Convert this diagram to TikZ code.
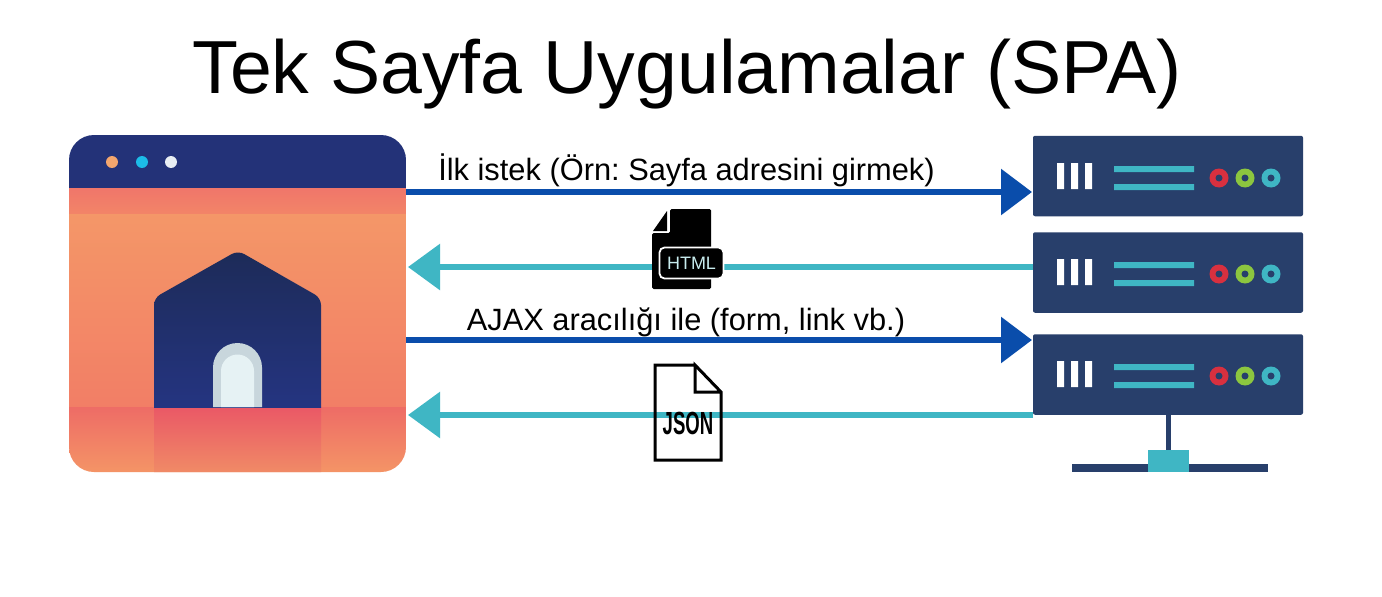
\documentclass[tikz,border=0pt]{standalone}
\usepackage{fontspec}
\setmainfont{Liberation Sans}
\usetikzlibrary{arrows.meta}
\frenchspacing
\definecolor{navy}{HTML}{233278}
\definecolor{srv}{HTML}{283F6B}
\definecolor{teal2}{HTML}{3FB6C4}
\definecolor{blue2}{HTML}{0A4DAB}
\definecolor{red2}{HTML}{D8303F}
\definecolor{green2}{HTML}{8CC63F}
\definecolor{bodytop}{HTML}{F49A68}
\definecolor{bodybot}{HTML}{F27E66}
\definecolor{bandtop}{HTML}{F0766A}
\definecolor{bandbot}{HTML}{F28468}
\definecolor{floortop}{HTML}{EE6C66}
\definecolor{floorbot}{HTML}{F49466}
\definecolor{midtop}{HTML}{EA5866}
\definecolor{midbot}{HTML}{F08A66}
\definecolor{dota}{HTML}{F4A66E}
\definecolor{dotb}{HTML}{1CBCE8}
\definecolor{dotc}{HTML}{E8EEF4}
\definecolor{housetop}{HTML}{1D2B58}
\definecolor{housebot}{HTML}{253584}
\definecolor{doorout}{HTML}{C8D6DC}
\definecolor{doorin}{HTML}{E6F2F4}
\definecolor{htmltxt}{HTML}{C8ECEE}
\tikzset{
  req/.style={draw=blue2,line width=6pt,-{Triangle[length=31pt,width=45pt]}},
  resp/.style={draw=teal2,line width=6pt,-{Triangle[length=32pt,width=45pt]}},
  lbl/.style={anchor=base,inner sep=0pt,font=\fontsize{30.8}{36}\selectfont},
  srvbox/.style={fill=srv,draw=none,rounded corners=2pt,inner sep=0pt,minimum width=270pt,minimum height=80.5pt},
}
\newcommand{\rackface}[1]{%
  \begin{scope}[yshift=-#1pt]
    \fill[white] (1057,163) rectangle (1064,189) (1071,163) rectangle (1078,189) (1085,163) rectangle (1092,189);
    \fill[teal2] (1114,166) rectangle (1194,172) (1114,184) rectangle (1194,190);
    \fill[red2] (1219,178) circle (9.5);
    \fill[green2] (1245,178) circle (9.5);
    \fill[teal2] (1271,178) circle (9.5);
    \fill[srv] (1219,178) circle (3.5) (1245,178) circle (3.5) (1271,178) circle (3.5);
  \end{scope}}
\begin{document}
\begin{tikzpicture}[x=1pt,y=-1pt]
\useasboundingbox (0,0) rectangle (1382,597);
\fill[white] (0,0) rectangle (1382,597);
\node[anchor=base,inner sep=0pt,font=\fontsize{75.2}{90}\selectfont] (title) at (687,93) {Tek Sayfa Uygulamalar (SPA)};
% browser
\begin{scope}
  \clip[rounded corners=25pt] (69,135) rectangle (406,472);
  \fill[navy] (69,135) rectangle (406,189);
  \shade[top color=bodytop,bottom color=bodybot] (69,188) rectangle (406,408);
  \shade[top color=bandtop,bottom color=bandbot] (69,188) rectangle (406,213);
  \shade[top color=floortop,bottom color=floorbot] (69,407) rectangle (406,472);
  \shade[top color=midtop,bottom color=midbot] (154,407) rectangle (321,472);
\end{scope}
\node[circle,fill=dota,minimum size=12pt,inner sep=0pt] (d1) at (112,162) {};
\node[circle,fill=dotb,minimum size=12pt,inner sep=0pt] (d2) at (142,162) {};
\node[circle,fill=dotc,minimum size=12pt,inner sep=0pt] (d3) at (171,162) {};
\begin{scope}
  \clip (150,240) rectangle (325,407);
  \shade[top color=housetop,bottom color=housebot,rounded corners=7pt]
    (154,420) -- (154,298) -- (238,250.5) -- (321,298) -- (321,420) -- cycle;
\end{scope}
\fill[doorout] (213,407) -- (213,367.5) arc[start angle=180,end angle=360,radius=24.5] -- (262,407) -- cycle;
\fill[doorin] (221,407) -- (221,371) arc[start angle=180,end angle=360,radius=16.5] -- (254,407) -- cycle;
\node[inner sep=0pt,minimum width=337pt,minimum height=337pt] (browser) at (237.5,303.5) {};
% servers
\node[srvbox] (s1) at (1168,176) {};
\node[srvbox] (s2) at (1168,272.5) {};
\node[srvbox] (s3) at (1168,374.5) {};
\rackface{0}\rackface{96}\rackface{198}
\fill[srv] (1072,464) rectangle (1268,472);
\node[fill=teal2,inner sep=0pt,minimum width=41pt,minimum height=22pt] (hub) at (1168.5,461) {};
\draw[srv,line width=5.5pt] (hub.north |- s3.south) -- (hub.north);
% connector ends
\coordinate (a1) at (406,192); \coordinate (b1) at (1032,192);
\coordinate (a2) at (1033,267); \coordinate (b2) at (408,267);
\coordinate (a3) at (406,340); \coordinate (b3) at (1032,340);
\coordinate (a4) at (1033,415); \coordinate (b4) at (408,415);
\draw[req] (a1) -- (b1);
\draw[resp] (a2) -- (b2);
\draw[req] (a3) -- (b3);
\draw[resp] (a4) -- (b4);
\node[lbl] (t1) at (686.5,180) {İlk istek (Örn: Sayfa adresini girmek)};
\node[lbl] (t2) at (686,330) {AJAX aracılığı ile (form, link vb.)};
% HTML icon
\fill[black,rounded corners=1.5pt] (652,233) -- (670,233) -- (670,209) -- (711,209) -- (711,289) -- (652,289) -- cycle;
\fill[black] (653,231) -- (667,211) -- (667,231) -- cycle;
\node[draw=white,fill=black,line width=1.8pt,rounded corners=5pt,minimum width=64pt,minimum height=31pt,inner sep=0pt,font=\fontsize{18}{20}\selectfont,text=htmltxt] (html) at (691.5,263) {HTML};
% JSON icon
\draw[black,line width=3pt,line join=miter] (695,365) -- (655,365) -- (655,460) -- (721,460) -- (721,392) -- (695,365) -- (695,392) -- (721,392);
\node[inner sep=0pt,font=\fontsize{32}{36}\selectfont\bfseries,xscale=0.58,transform shape] (json) at (688,423) {JSON};
\end{tikzpicture}
\end{document}
